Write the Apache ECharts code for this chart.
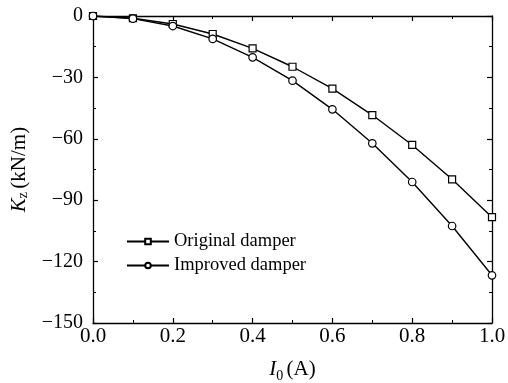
<!DOCTYPE html>
<html><head><meta charset="utf-8">
<script src="https://cdn.jsdelivr.net/npm/echarts@6/dist/echarts.min.js"></script>
<style>html,body{margin:0;padding:0;background:#fff}#c{width:508px;height:383px}</style>
</head><body><div id="c"></div>
<script>
const currents = [0, 0.1, 0.2, 0.3, 0.4, 0.5, 0.6, 0.7, 0.8, 0.9, 1.0];
const original = [0, -1.1, -3.9, -8.8, -15.8, -24.8, -35.5, -48.4, -63.0, -79.8, -98.3];
const improved = [0, -1.3, -4.9, -11.2, -20.2, -31.6, -45.6, -62.2, -81.1, -102.6, -126.7];
const seriesNames = ['Original damper', 'Improved damper'];

const font = 'Liberation Serif, Times New Roman, serif';
const chart = echarts.init(document.getElementById('c'));
const pair = (ys) => currents.map((x, i) => [x, ys[i]]);
const axisCommon = {
  axisLine: {show: true, onZero: false, lineStyle: {color: '#000', width: 1.3}},
  axisTick: {show: true, inside: true, length: 5, lineStyle: {color: '#000', width: 1.2}},
  minorTick: {show: true, splitNumber: 2, length: 3, lineStyle: {color: '#000', width: 1}},
  splitLine: {show: false}
};
chart.setOption({
  animation: false,
  grid: {left: 93, right: 16, top: 16, bottom: 60, containLabel: false, outerBoundsMode: 'none'},
  legend: {
    left: 121, top: 227, orient: 'vertical', itemGap: 5, itemWidth: 42, itemHeight: 7,
    textStyle: {fontFamily: font, fontSize: 18.5, color: '#000'},
    data: seriesNames
  },
  xAxis: [
    Object.assign({
      type: 'value', min: 0, max: 1, interval: 0.2, position: 'bottom',
      axisLabel: {fontFamily: font, fontSize: 21, color: '#000', margin: 3, formatter: v => v.toFixed(1)},
      name: '{i|I}{s|0} {n|(A)}', nameLocation: 'middle', nameGap: 32,
      nameTextStyle: {rich: {
        i: {fontFamily: font, fontSize: 21, fontStyle: 'italic', color: '#000'},
        s: {fontFamily: font, fontSize: 14, color: '#000', padding: [14, 0, 0, 0]},
        n: {fontFamily: font, fontSize: 21, color: '#000'}
      }}
    }, axisCommon),
    Object.assign({
      type: 'value', min: 0, max: 1, interval: 0.2, position: 'top', axisLabel: {show: false}
    }, axisCommon)
  ],
  yAxis: [
    Object.assign({
      type: 'value', min: -150, max: 0, interval: 30, position: 'left',
      axisLabel: {fontFamily: font, fontSize: 20, color: '#000', margin: 10,
        formatter: v => v < 0 ? '\u2212' + Math.abs(v) : String(v)},
      name: '{i|K}{s|z} {n|(kN/m)}', nameLocation: 'middle', nameGap: 60,
      nameTextStyle: {rich: {
        i: {fontFamily: font, fontSize: 21, fontStyle: 'italic', color: '#000'},
        s: {fontFamily: font, fontSize: 14, color: '#000', padding: [8, 0, 0, 0]},
        n: {fontFamily: font, fontSize: 21, color: '#000'}
      }}
    }, axisCommon),
    Object.assign({
      type: 'value', min: -150, max: 0, interval: 30, position: 'right', axisLabel: {show: false}
    }, axisCommon)
  ],
  series: [
    {name: seriesNames[0], type: 'line', data: pair(original), symbol: 'rect', symbolSize: 7,
     lineStyle: {color: '#000', width: 1.4}, itemStyle: {color: '#fff', borderColor: '#000', borderWidth: 1.2}},
    {name: seriesNames[1], type: 'line', data: pair(improved), symbol: 'circle', symbolSize: 7.5,
     lineStyle: {color: '#000', width: 1.4}, itemStyle: {color: '#fff', borderColor: '#000', borderWidth: 1.2}}
  ]
});
</script></body></html>
